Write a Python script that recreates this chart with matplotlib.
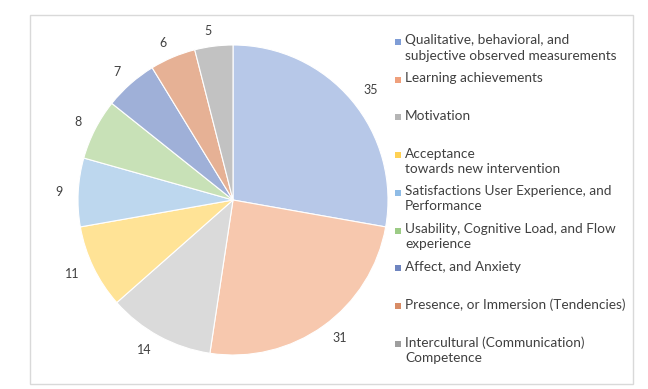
import matplotlib.pyplot as plt
from matplotlib.patches import Rectangle

plt.rcParams['font.family'] = ['Lato', 'DejaVu Sans']

categories = [
    "Qualitative, behavioral, and\nsubjective observed measurements",
    "Learning achievements",
    "Motivation",
    "Acceptance\ntowards new intervention",
    "Satisfactions User Experience, and\nPerformance",
    "Usability, Cognitive Load, and Flow\nexperience",
    "Affect, and Anxiety",
    "Presence, or Immersion (Tendencies)",
    "Intercultural (Communication)\nCompetence",
]
counts = [35, 31, 14, 11, 9, 8, 7, 6, 5]

# pale fills (the original uses a fine pattern over these)
fills = ['#B7C8E8', '#F7C8AE', '#DADADA', '#FFE396', '#BDD7EE',
         '#C8E1B7', '#9FB0D8', '#E6B195', '#C2C2C2']
marks = ['#7F9DD6', '#EFA07C', '#B5B5B5', '#FFD154', '#8FBCE6',
         '#9CCB85', '#6F85C0', '#D88C66', '#9E9E9E']

W, H = 648, 389
fig = plt.figure(figsize=(W / 100, H / 100), dpi=100)

# outer frame
fig.patches.append(Rectangle((30 / W, 1 - 384 / H), 603 / W, 369 / H,
                             transform=fig.transFigure, fill=False,
                             edgecolor='#D9D9D9', linewidth=1))

# pie axes: centre (233, 200) px, radius 155 px
cx, cy, R, lim = 233, 200, 155, 1.2
half = R * lim
ax = fig.add_axes([(cx - half) / W, (H - cy - half) / H, 2 * half / W, 2 * half / H])
wedges, texts = ax.pie(counts, labels=[str(c) for c in counts], colors=fills,
                       startangle=90, counterclock=False, labeldistance=1.1,
                       wedgeprops=dict(edgecolor='white', linewidth=0.8),
                       textprops=dict(fontsize=9, color='#404040'))
ax.set_xlim(-lim, lim)
ax.set_ylim(-lim, lim)
ax.set_aspect('equal')

# legend drawn by hand to keep Excel-like spacing
y0, step = 42, 37.7
for i, (lab, c) in enumerate(zip(categories, marks)):
    y = y0 + i * step
    fig.patches.append(Rectangle((395 / W, 1 - (y + 3) / H), 6 / W, 6 / H,
                                 transform=fig.transFigure, facecolor=c,
                                 edgecolor='none'))
    fig.text(405 / W, 1 - (y - 7.5) / H, lab, fontsize=9.8, color='#404040',
             va='top', ha='left', linespacing=1.3)

fig.savefig('out.png', dpi=100)
